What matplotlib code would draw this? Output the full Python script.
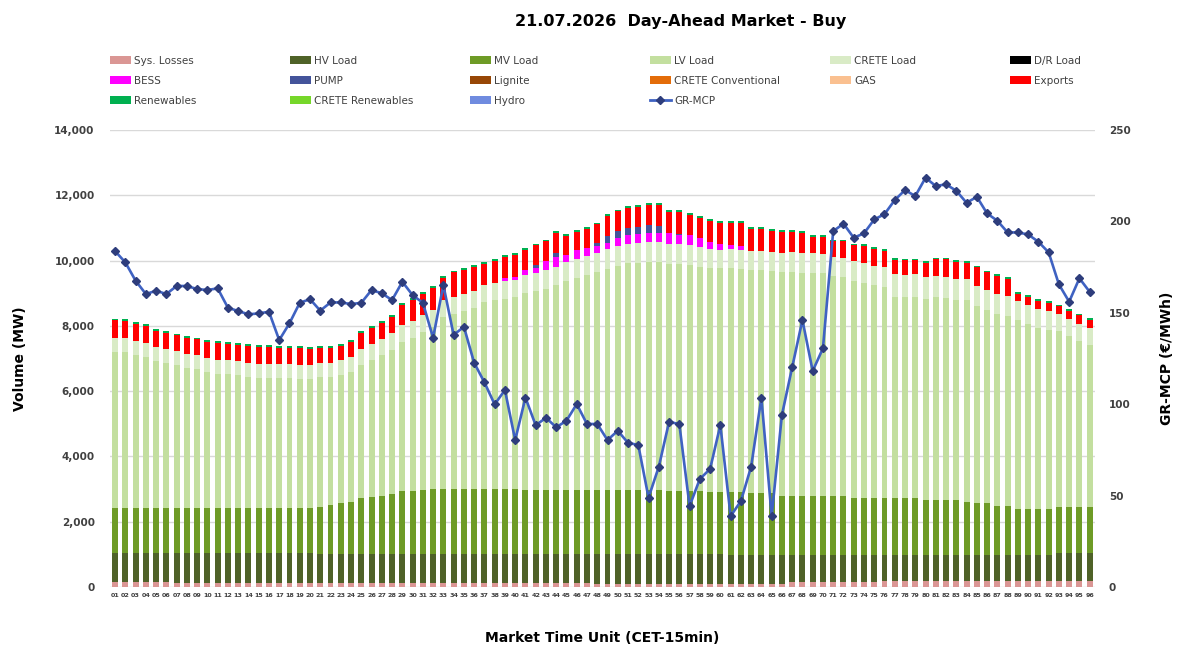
import matplotlib

matplotlib.use("Agg")
import matplotlib.pyplot as plt
import numpy as np
from matplotlib.lines import Line2D
from matplotlib.patches import Patch

# Market time units 01..96
mtu_labels = [f"{i:02d}" for i in range(1, 97)]

# Stacked volumes (MW)
sys_losses = [
    150, 150, 150, 150, 150, 150, 115, 115, 115, 115, 115, 115,
    115, 115, 115, 115, 115, 115, 115, 115, 115, 115, 115, 115,
    115, 115, 115, 115, 115, 115, 115, 115, 115, 115, 115, 115,
    115, 115, 115, 115, 115, 115, 115, 115, 115, 115, 115, 105,
    105, 105, 105, 105, 105, 105, 105, 105, 105, 105, 105, 105,
    105, 105, 105, 105, 105, 105, 140, 140, 140, 140, 140, 140,
    140, 140, 140, 180, 180, 180, 180, 180, 180, 180, 180, 180,
    180, 180, 180, 180, 180, 180, 180, 180, 180, 180, 180, 180,
]
hv_load = [
    880, 880, 880, 880, 880, 880, 915, 915, 915, 915, 915, 915,
    915, 915, 915, 915, 915, 915, 915, 915, 895, 895, 895, 895,
    895, 895, 895, 895, 895, 895, 895, 895, 895, 895, 895, 895,
    895, 895, 895, 895, 895, 895, 895, 895, 895, 895, 895, 905,
    905, 905, 905, 905, 905, 905, 905, 905, 905, 905, 905, 905,
    885, 885, 885, 885, 885, 885, 850, 850, 850, 850, 850, 850,
    850, 850, 850, 810, 810, 810, 810, 810, 810, 810, 810, 810,
    810, 810, 810, 810, 810, 810, 810, 810, 850, 850, 850, 850,
]
mv_load = [
    1390, 1390, 1390, 1390, 1390, 1390, 1390, 1390, 1390, 1390, 1390, 1390,
    1390, 1390, 1390, 1390, 1390, 1390, 1390, 1390, 1440, 1500, 1550, 1600,
    1730, 1760, 1790, 1830, 1940, 1940, 1950, 1980, 1990, 1990, 1990, 1990,
    1990, 1990, 1990, 1980, 1970, 1970, 1970, 1970, 1970, 1970, 1970, 1970,
    1970, 1970, 1970, 1970, 1970, 1970, 1940, 1940, 1940, 1940, 1910, 1910,
    1930, 1930, 1890, 1890, 1890, 1810, 1810, 1810, 1810, 1810, 1810, 1810,
    1730, 1730, 1730, 1730, 1730, 1730, 1730, 1690, 1690, 1690, 1690, 1610,
    1570, 1570, 1490, 1490, 1410, 1410, 1410, 1410, 1420, 1420, 1420, 1420,
]
lv_load = [
    4790, 4770, 4700, 4620, 4500, 4440, 4370, 4290, 4250, 4180, 4110, 4100,
    4070, 4010, 3990, 3990, 3970, 3970, 3950, 3950, 3980, 3920, 3950, 3980,
    4070, 4180, 4300, 4430, 4560, 4680, 4850, 4990, 5260, 5375, 5455, 5535,
    5720, 5800, 5835, 5895, 6015, 6080, 6160, 6265, 6390, 6495, 6565, 6670,
    6775, 6870, 6935, 6950, 6980, 6980, 6960, 6935, 6910, 6860, 6860, 6840,
    6855, 6835, 6835, 6835, 6805, 6850, 6860, 6830, 6830, 6820, 6720, 6700,
    6660, 6600, 6520, 6480, 6180, 6170, 6180, 6140, 6200, 6190, 6110, 6190,
    6060, 5940, 5890, 5820, 5775, 5655, 5535, 5465, 5385, 5235, 5075, 4975,
]
crete_load = [
    430, 430, 430, 430, 430, 430, 430, 430, 430, 430, 430, 430,
    430, 430, 430, 430, 430, 430, 430, 430, 430, 430, 440, 460,
    480, 490, 500, 510, 520, 520, 520, 520, 520, 520, 520, 520,
    530, 530, 530, 530, 560, 560, 560, 560, 590, 590, 590, 590,
    590, 590, 610, 610, 610, 610, 610, 610, 610, 610, 580, 580,
    580, 580, 590, 590, 590, 590, 590, 590, 590, 590, 590, 590,
    610, 610, 610, 610, 680, 680, 680, 680, 640, 640, 640, 640,
    610, 610, 610, 610, 580, 580, 580, 580, 520, 520, 520, 520,
]
bess = [
    0, 0, 0, 0, 0, 0, 0, 0, 0, 0, 0, 0,
    0, 0, 0, 0, 0, 0, 0, 0, 0, 0, 0, 0,
    0, 0, 0, 0, 0, 0, 0, 0, 0, 0, 0, 0,
    0, 0, 100, 90, 150, 140, 275, 300, 200, 255, 245, 200,
    200, 245, 255, 265, 285, 285, 325, 300, 305, 275, 205, 175,
    120, 120, 0, 0, 0, 0, 0, 0, 0, 0, 0, 0,
    0, 0, 0, 0, 0, 0, 0, 0, 0, 0, 0, 0,
    0, 0, 0, 0, 0, 0, 0, 0, 0, 0, 0, 0,
]
pump = [
    0, 0, 0, 0, 0, 0, 0, 0, 0, 0, 0, 0,
    0, 0, 0, 0, 0, 0, 0, 0, 0, 0, 0, 0,
    0, 0, 0, 0, 0, 0, 0, 0, 0, 0, 0, 0,
    0, 0, 0, 0, 0, 110, 0, 130, 0, 0, 0, 90,
    225, 235, 215, 220, 225, 205, 0, 30, 0, 0, 0, 0,
    0, 0, 0, 0, 0, 0, 0, 0, 0, 0, 0, 0,
    0, 0, 0, 0, 0, 0, 0, 0, 0, 0, 0, 0,
    0, 0, 0, 0, 0, 0, 0, 0, 0, 0, 0, 0,
]
exports = [
    530, 530, 520, 520, 490, 490, 490, 500, 490, 490, 510, 500,
    510, 520, 510, 510, 510, 510, 520, 500, 460, 460, 430, 460,
    490, 490, 490, 490, 610, 640, 640, 660, 700, 745, 745, 745,
    660, 650, 645, 665, 615, 600, 615, 615, 590, 560, 590, 580,
    590, 590, 615, 615, 630, 650, 645, 665, 615, 615, 645, 635,
    675, 695, 675, 665, 635, 630, 630, 630, 500, 510, 480, 500,
    480, 510, 510, 490, 450, 440, 430, 440, 520, 530, 530, 510,
    560, 530, 560, 540, 235, 255, 255, 255, 245, 245, 275, 245,
]
renewables = [55] * 96
# series present in the legend but empty on this day
dr_load = [0] * 96
lignite = [0] * 96
crete_conventional = [0] * 96
gas = [0] * 96
crete_renewables = [0] * 96
hydro = [0] * 96

# GR-MCP price (EUR/MWh)
gr_mcp = [
    183.8, 177.6, 167.6, 160.3, 162.1, 160.3, 164.7, 164.7, 163.0, 162.5, 163.4, 152.8,
    151.0, 149.2, 149.7, 150.6, 135.1, 144.3, 155.5, 157.5, 151.2, 155.7, 155.7, 154.8,
    155.5, 162.5, 160.7, 157.0, 167.0, 159.7, 155.5, 136.4, 165.2, 137.9, 142.4, 122.7,
    112.0, 99.9, 107.8, 80.4, 103.6, 88.5, 92.6, 87.4, 91.0, 100.1, 89.2, 89.2,
    80.4, 85.5, 78.9, 77.7, 48.9, 65.8, 90.3, 89.2, 44.3, 59.1, 64.6, 88.6,
    38.8, 47.0, 65.8, 103.6, 38.8, 94.1, 120.2, 146.1, 118.2, 130.6, 194.7, 198.8,
    191.1, 193.5, 201.1, 204.0, 211.7, 217.2, 213.9, 223.9, 219.4, 220.3, 216.8, 210.2,
    213.5, 204.4, 200.4, 194.0, 194.0, 192.9, 188.9, 183.1, 165.6, 156.1, 168.9, 161.5,
]

# stacking order (bottom -> top) with colours
stack = [
    ("Sys. Losses", sys_losses, "#DA9694"),
    ("HV Load", hv_load, "#4F6228"),
    ("MV Load", mv_load, "#6E9B26"),
    ("LV Load", lv_load, "#C3DF9F"),
    ("CRETE Load", crete_load, "#D9EBC6"),
    ("D/R Load", dr_load, "#000000"),
    ("BESS", bess, "#FF00FF"),
    ("PUMP", pump, "#44549A"),
    ("Lignite", lignite, "#974706"),
    ("CRETE Conventional", crete_conventional, "#E36C09"),
    ("GAS", gas, "#FAC090"),
    ("Exports", exports, "#FF0000"),
    ("Renewables", renewables, "#00B050"),
    ("CRETE Renewables", crete_renewables, "#76D72A"),
    ("Hydro", hydro, "#6F8BDF"),
]

LINE_COLOR = "#3F62C2"
MARKER_COLOR = "#2E3D7C"
TEXT_COLOR = "#404040"

fig = plt.figure(figsize=(11.9, 6.57), dpi=100)
ax = fig.add_axes([0.0924, 0.1065, 0.8276, 0.6955])

x = np.arange(len(mtu_labels))
bottom = np.zeros(len(x))
for name, values, color in stack:
    vals = np.asarray(values, dtype=float)
    ax.bar(x, vals, bottom=bottom, width=0.58, color=color, linewidth=0, zorder=2)
    bottom += vals

ax.set_xlim(-0.5, len(x) - 0.5)
ax.set_ylim(0, 14000)
ax.set_yticks(np.arange(0, 14001, 2000))
ax.set_yticklabels([f"{v:,}" for v in range(0, 14001, 2000)])
ax.set_xticks(x)
ax.set_xticklabels(mtu_labels)
ax.grid(axis="y", color="#D9D9D9", linewidth=1, zorder=0)
ax.set_axisbelow(True)
for s in ax.spines.values():
    s.set_visible(False)
ax.tick_params(axis="y", length=0, pad=11, labelsize=7.5, labelcolor=TEXT_COLOR)
ax.tick_params(axis="x", length=0, pad=4, labelsize=4.6, labelcolor=TEXT_COLOR)
for lbl in ax.get_yticklabels():
    lbl.set_fontweight("bold")
for lbl in ax.get_xticklabels():
    lbl.set_fontweight("bold")

ax.set_ylabel("Volume (MW)", fontsize=10, fontweight="bold", color="black")
ax.yaxis.set_label_coords(-0.084, 0.5)
ax.set_xlabel("Market Time Unit (CET-15min)", fontsize=10, fontweight="bold", color="black")
ax.xaxis.set_label_coords(0.5, -0.096)

# price on the secondary axis
ax2 = ax.twinx()
ax2.plot(x, gr_mcp, color=LINE_COLOR, linewidth=1.9, marker="D", markersize=4.2,
         markerfacecolor=MARKER_COLOR, markeredgecolor=MARKER_COLOR, zorder=5)
ax2.set_ylim(0, 250)
ax2.set_yticks(np.arange(0, 251, 50))
for s in ax2.spines.values():
    s.set_visible(False)
ax2.tick_params(axis="y", length=0, pad=10, labelsize=7.5, labelcolor=TEXT_COLOR)
for lbl in ax2.get_yticklabels():
    lbl.set_fontweight("bold")
ax2.set_ylabel("GR-MCP (€/MWh)", fontsize=10, fontweight="bold", color="black")
ax2.yaxis.set_label_coords(1.066, 0.5)

fig.text(0.572, 0.968, "21.07.2026  Day-Ahead Market - Buy", ha="center", va="center",
         fontsize=11.5, fontweight="bold", color="black")

# legend: 6 columns laid out on a fixed grid, like the original
handles = [Patch(facecolor=c, edgecolor="none") for _, _, c in stack]
labels = [n for n, _, _ in stack]
handles.append(Line2D([0], [0], color=LINE_COLOR, linewidth=2, marker="D", markersize=4,
                      markerfacecolor=MARKER_COLOR, markeredgecolor=MARKER_COLOR))
labels.append("GR-MCP")

col_x = [110, 290, 470, 650, 830, 1010]
for col, px in enumerate(col_x):
    idx = list(range(col, len(labels), 6))
    leg = fig.legend(
        [handles[i] for i in idx],
        [labels[i] for i in idx],
        loc="upper left",
        bbox_to_anchor=(px / 1190, 1 - 56 / 657),
        frameon=False,
        fontsize=7.5,
        handlelength=2.0,
        handleheight=0.8,
        handletextpad=0.3,
        labelspacing=0.96,
        borderpad=0,
        borderaxespad=0,
    )
    for t in leg.get_texts():
        t.set_color(TEXT_COLOR)

fig.savefig("out.png", dpi=100)
